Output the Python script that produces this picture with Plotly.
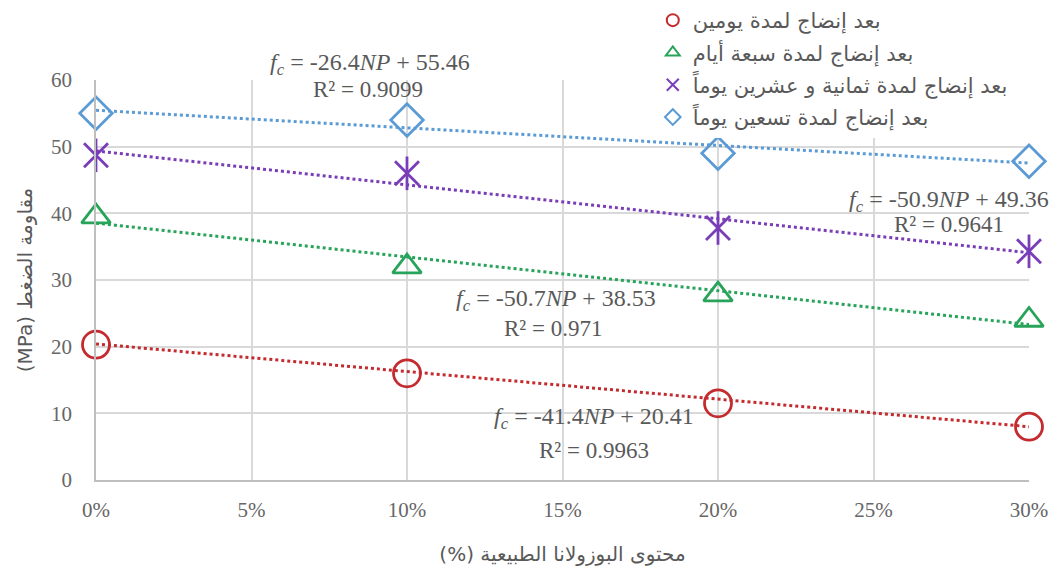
import plotly.graph_objects as go

x_vals = [0.0, 0.10, 0.20, 0.30]
series_names = [
    "بعد إنضاج لمدة يومين",
    "بعد إنضاج لمدة سبعة أيام",
    "بعد إنضاج لمدة ثمانية و عشرين يوماً",
    "بعد إنضاج لمدة تسعين يوماً",
]
days2 = [20.3, 16.0, 11.5, 8.0]
days7 = [39.5, 32.0, 27.8, 24.0]
days28 = [48.7, 46.0, 37.8, 34.3]
days90 = [55.0, 54.0, 49.0, 47.8]
slopes = [-41.4, -50.7, -50.9, -26.4]
intercepts = [20.41, 38.53, 49.36, 55.46]
r2_vals = ["0.9963", "0.971", "0.9641", "0.9099"]
x_ticks = [0.0, 0.05, 0.10, 0.15, 0.20, 0.25, 0.30]
x_tick_labels = ["0%", "5%", "10%", "15%", "20%", "25%", "30%"]
y_ticks = [0, 10, 20, 30, 40, 50, 60]
x_title = "محتوى البوزولانا الطبيعية (%)"
y_title = "مقاومة الضغط (MPa)"

colors = ["#C42B2F", "#27A35A", "#7A3DB8", "#5B9BD5"]
symbols = ["circle-open", "triangle-up-open", "x-thin-open", "diamond-open"]
sizes = [27, 25, 24, 25]
all_series = [days2, days7, days28, days90]

# equation label anchors (x in data units, y in data units)
eq_pos = [(0.160, 9.3), (0.148, 27.0), (0.2743, 41.85), (0.0881, 62.4)]
r2_pos = [(0.160, 4.5), (0.147, 22.8), (0.2743, 38.4), (0.0875, 58.65)]

fig = go.Figure()

for i in range(4):
    xs = [x_ticks[0], x_ticks[-1]]
    ys = [intercepts[i] + slopes[i] * xv for xv in xs]
    fig.add_trace(go.Scatter(
        x=xs, y=ys, mode="lines",
        line=dict(color=colors[i], width=3, dash="dot"),
        showlegend=False, hoverinfo="skip", cliponaxis=False))

for i in range(4):
    fig.add_trace(go.Scatter(
        x=x_vals, y=all_series[i], mode="markers", name=series_names[i],
        legendgroup=f"g{i}", cliponaxis=False,
        marker=dict(symbol=symbols[i], size=sizes[i], color=colors[i],
                    line=dict(width=2.8, color=colors[i]))))
    if i == 2:
        # vertical bar to make the six-armed star
        fig.add_trace(go.Scatter(
            x=x_vals, y=all_series[i], mode="markers", showlegend=False,
            legendgroup=f"g{i}", cliponaxis=False, hoverinfo="skip",
            marker=dict(symbol="line-ns-open", size=sizes[i], color=colors[i],
                        line=dict(width=2.8, color=colors[i]))))

serif = "Liberation Serif"
txt_col = "#595959"
for i in range(4):
    fig.add_annotation(
        x=eq_pos[i][0], y=eq_pos[i][1] / 60.0, xref="x", yref="paper",
        xanchor="center", yanchor="middle", showarrow=False,
        text=f"<i>f</i><sub><i>c</i></sub> = {slopes[i]}<i>NP</i> + {intercepts[i]}",
        font=dict(family=serif, size=24, color=txt_col))
    fig.add_annotation(
        x=r2_pos[i][0], y=r2_pos[i][1] / 60.0, xref="x", yref="paper",
        xanchor="center", yanchor="middle", showarrow=False,
        text=f"R² = {r2_vals[i]}",
        font=dict(family=serif, size=23, color=txt_col))

fig.update_layout(
    width=1058, height=572,
    margin=dict(l=96, r=29, t=80, b=92, autoexpand=False),
    paper_bgcolor="white", plot_bgcolor="white",
    font=dict(family=serif, color="#666666", size=20),
    showlegend=True,
    legend=dict(
        xref="container", yref="container", x=0.617, y=1.0,
        xanchor="left", yanchor="top",
        bgcolor="white", borderwidth=0,
        font=dict(family="DejaVu Sans", size=21, color=txt_col),
        itemsizing="constant", traceorder="grouped", tracegroupgap=2,
    ),
)
fig.update_xaxes(
    range=[0, 0.30], tickvals=x_ticks, ticktext=x_tick_labels,
    showgrid=True, gridcolor="#D9D9D9", gridwidth=1.5,
    showline=True, linecolor="#BFBFBF", linewidth=1.5, zeroline=False,
    ticks="", ticklabelstandoff=10,
    tickfont=dict(family=serif, size=21, color="#666666"),
    title=dict(text="\u202b" + x_title + "\u202c",
               font=dict(family="DejaVu Sans", size=20, color=txt_col), standoff=26),
)
fig.update_yaxes(
    range=[0, 60], tickvals=y_ticks,
    showgrid=True, gridcolor="#D9D9D9", gridwidth=1.5,
    showline=True, linecolor="#BFBFBF", linewidth=1.5, zeroline=False,
    ticks="", ticklabelstandoff=18,
    tickfont=dict(family=serif, size=21, color="#666666"),
    title=dict(text="\u202b" + y_title + "\u202c",
               font=dict(family="DejaVu Sans", size=20, color=txt_col), standoff=13),
)
fig.write_html("out.html", config={"displayModeBar": False},
               post_script="document.body.style.margin='0';")
